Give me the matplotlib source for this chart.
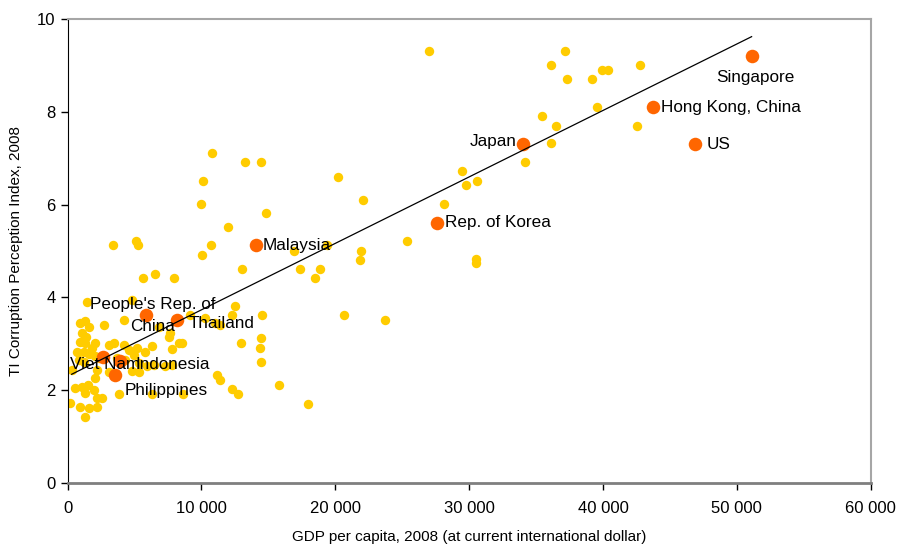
import numpy as np
import matplotlib
matplotlib.use('Agg')
import matplotlib.pyplot as plt
from matplotlib.ticker import FuncFormatter

plt.rcParams['font.family'] = ['Liberation Sans', 'DejaVu Sans']

# all economies (GDP per capita PPP 2008, TI CPI 2008)
gdp_all = [27030, 37190, 36140, 39950, 40400, 42740, 37290, 39160, 39550, 35420,
           36470, 42520, 36140, 34180, 29450, 29790, 30590, 28150, 30520, 30520,
           13240, 14450, 20230, 22100, 14850, 12000, 19380, 16940, 21950, 21870,
           25380, 13060, 17390, 18840, 18470, 12490, 12290, 14530, 20630, 23720,
           14450, 12980, 14360, 14450, 15820, 12290, 12740, 17940,
           10790, 10120, 9970, 3420, 5140, 5240, 10700, 10050, 5660, 6540, 7930,
           9150, 10270, 11020, 11390, 8530, 11190, 11390,
           6290, 8600, 3870, 4800, 5340,
           1460, 4820, 960, 1330, 1580, 2700, 4200, 1080, 1380, 960,
           1330, 2080, 1830, 710, 1210, 1580, 2080, 3080, 3450, 4200,
           4570, 5190, 5810, 6310, 840, 1210, 2330, 3700, 4320, 4950,
           340, 2200, 2080, 3080, 5320, 5940, 6440, 7310, 7810,
           580, 1080, 1530, 1960, 1330, 2200, 2580, 210, 960, 1580,
           2200, 1280, 6810, 7560, 8310, 7810, 7660]
cpi_all = [9.32, 9.32, 9.01, 8.91, 8.91, 9.01, 8.72, 8.72, 8.11, 7.92,
           7.70, 7.70, 7.32, 6.91, 6.72, 6.42, 6.51, 6.01, 4.82, 4.74,
           6.91, 6.91, 6.60, 6.11, 5.81, 5.52, 5.12, 5.01, 5.01, 4.81,
           5.22, 4.61, 4.61, 4.61, 4.42, 3.81, 3.61, 3.61, 3.61, 3.52,
           3.12, 3.01, 2.90, 2.61, 2.10, 2.02, 1.92, 1.71,
           7.12, 6.51, 6.02, 5.12, 5.22, 5.12, 5.12, 4.91, 4.42, 4.51, 4.42,
           3.62, 3.55, 3.44, 3.40, 3.01, 2.33, 2.22,
           1.92, 1.92, 1.92, 2.42, 2.40,
           3.91, 3.94, 3.44, 3.50, 3.37, 3.40, 3.51, 3.23, 3.15, 3.04,
           3.01, 3.01, 2.90, 2.83, 2.83, 2.78, 2.74, 2.97, 3.01, 2.97,
           2.87, 2.90, 2.83, 2.94, 2.65, 2.61, 2.69, 2.69, 2.65, 2.76,
           2.43, 2.43, 2.25, 2.40, 2.58, 2.52, 2.54, 2.52, 2.54,
           2.04, 2.07, 2.11, 2.00, 1.93, 1.82, 1.82, 1.72, 1.63, 1.61,
           1.64, 1.41, 3.37, 3.15, 3.01, 2.88, 3.23]

# highlighted economies
names = ['Singapore', 'Hong Kong, China', 'US', 'Japan', 'Rep. of Korea', 'Malaysia',
         "People's Rep. of\nChina", 'Thailand', 'Viet Nam', 'Indonesia', 'Philippines']
gdp_hl = [51100, 43750, 46850, 34050, 27580, 14050, 5900, 8150, 2650, 3900, 3530]
cpi_hl = [9.21, 8.10, 7.31, 7.31, 5.61, 5.12, 3.61, 3.52, 2.72, 2.63, 2.32]

# trend line
trend_slope = 1.434e-4
trend_intercept = 2.296

# label offsets in pixels (dx, dy, ha)
offsets = [(4, -22, 'center'), (8, 0, 'left'), (12, -1, 'left'), (-7, 2, 'right'),
           (8, 0, 'left'), (7, 0, 'left'), (6, 0, 'center'), (12, -4, 'left'),
           (2, -8, 'center'), (16, -4, 'left'), (10, -15, 'left')]
line_step = 22  # px between lines of a wrapped label

fig = plt.figure(figsize=(9, 5.46), dpi=100)
ax = fig.add_axes([0.075, 0.1158, 0.8925, 0.849])

ax.scatter(gdp_all, cpi_all, s=46, color='#FFCC00', zorder=2, linewidths=0)
ax.scatter(gdp_hl, cpi_hl, s=95, color='#FF6600', zorder=3, linewidths=0)

xs = np.array(gdp_all + gdp_hl)
xl = np.array([310, xs.max()])
ax.plot(xl, trend_slope * xl + trend_intercept, color='black', lw=0.9, zorder=4)

for n, x, y, (dx, dy, ha) in zip(names, gdp_hl, cpi_hl, offsets):
    lines = n.split('\n')
    top = dy + line_step * (len(lines) - 1) / 2
    for i, ln in enumerate(lines):
        ax.annotate(ln, (x, y), xytext=(dx, top - i * line_step), textcoords='offset pixels',
                    ha=ha, va='center', fontsize=12.3, zorder=5)

ax.set_xlim(0, 60000)
ax.set_ylim(0, 10)
ax.set_xticks(range(0, 60001, 10000))
ax.set_yticks(range(0, 11, 2))
ax.xaxis.set_major_formatter(FuncFormatter(lambda v, p: f'{int(v):,}'.replace(',', ' ')))
ax.tick_params(labelsize=12, length=5, width=1)
ax.tick_params(axis='x', pad=8)

ax.spines['left'].set_color('black')
ax.spines['bottom'].set_color('#7f7f7f')
ax.spines['bottom'].set_linewidth(2)
ax.spines['top'].set_color('#a6a6a6')
ax.spines['right'].set_color('#a6a6a6')
ax.spines['top'].set_linewidth(1.5)
ax.spines['right'].set_linewidth(1.5)

ax.set_xlabel('GDP per capita, 2008 (at current international dollar)', fontsize=11, labelpad=10)
ax.set_ylabel('TI Corruption Perception Index, 2008', fontsize=11, labelpad=10)

plt.savefig('out.png', dpi=100)
